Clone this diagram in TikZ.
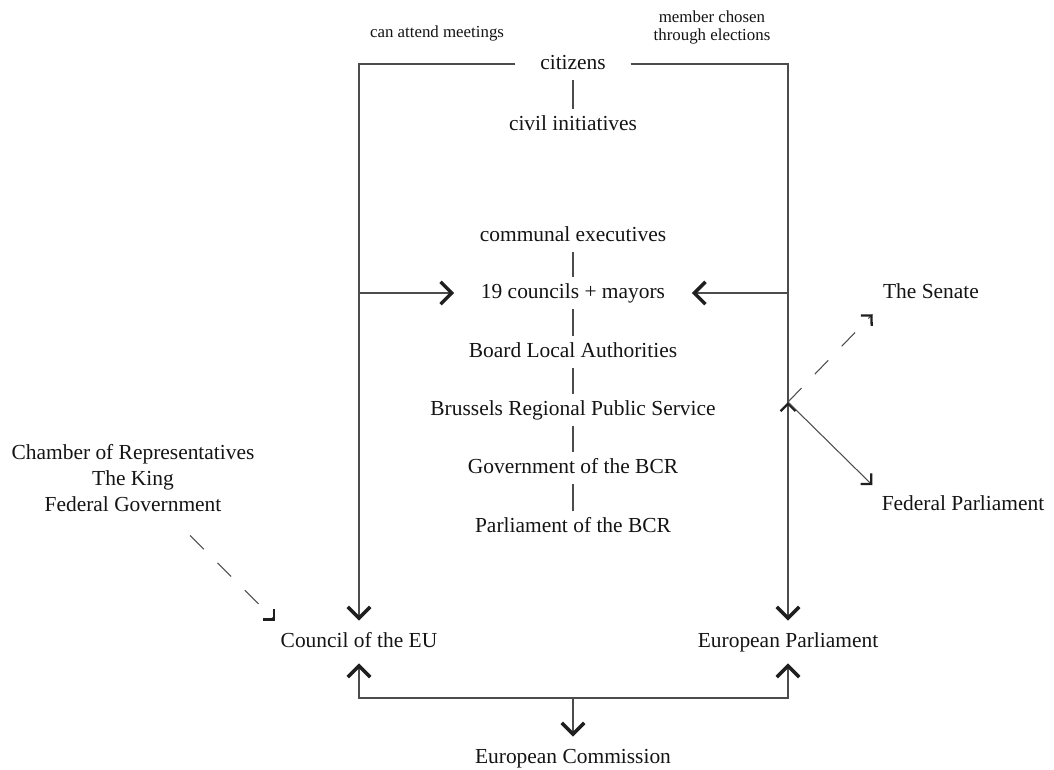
\documentclass[tikz,border=0pt]{standalone}
\usepackage{fontspec}
\setmainfont{Liberation Serif}
\usepackage{tikz}
\usetikzlibrary{arrows.meta,calc}

\begin{document}
\begin{tikzpicture}[
  x=0.02cm, y=-0.02cm,
  lbl/.style ={inner xsep=3pt,inner ysep=3pt,text height=9pt,text depth=3pt,
               font=\fontsize{12.2}{14.8}\selectfont,text=black!92},
  eu/.style  ={lbl,inner ysep=6pt},
  grp/.style ={align=center,font=\fontsize{12.2}{14.8}\selectfont,text=black!92},
  note/.style={align=center,font=\fontsize{9.6}{10.2}\selectfont,text=black!92},
  link/.style={draw=black!70,line width=0.6pt},
  bigarrow/.style  ={link,-{Straight Barb[angle=90:9pt,line width=2pt,color=black!88]}},
  smallarrow/.style={link,-{Straight Barb[angle=90:6pt,line width=1.3pt,color=black!88]}},
  dasharrow/.style ={smallarrow,dash pattern=on 11pt off 11pt},
]
\useasboundingbox (0,0) rectangle (1054,769);

\node[lbl,inner xsep=14pt] (citizens) at (573,64)  {citizens};
\node[lbl]                 (civil)    at (573,125) {civil initiatives};
\node[lbl]                 (communal) at (573,236) {communal executives};
\node[lbl,inner xsep=15pt] (councils) at (573,293) {19 councils + mayors};
\node[lbl]                 (board)    at (573,352) {Board Local Authorities};
\node[lbl]                 (brussels) at (573,410) {Brussels Regional Public Service};
\node[lbl]                 (govt)     at (573,468) {Government of the BCR};
\node[lbl]                 (bcrparl)  at (573,527) {Parliament of the BCR};
\node[eu]  (council)    at (359,642) {Council of the EU};
\node[eu]  (europarl)   at (788,642) {European Parliament};
\node[eu]  (commission) at (573,758) {European Commission};
\node[grp] (chamber) at (133,478) {Chamber of Representatives\\The King\\Federal Government};
\node[lbl] (senate)  at (931,293) {The Senate};
\node[lbl] (fedparl) at (963,505) {Federal Parliament};
\node[note] (attend)  at (437,33) {can attend meetings};
\node[note] (elected) at (712,27) {member chosen\\through elections};

\coordinate (hub)  at (573,698);
\coordinate (fedj) at (788,402);
\coordinate (chamberout) at ($(council.north west)+(-85,-85)$);

\draw[link] (citizens) -- (civil);
\draw[link] (communal) -- (councils);
\draw[link] (councils) -- (board);
\draw[link] (board) -- (brussels);
\draw[link] (brussels) -- (govt);
\draw[link] (govt) -- (bcrparl);

\draw[bigarrow] (citizens.west) -| (council.north);
\draw[bigarrow] (citizens.east) -| (europarl.north);
\draw[bigarrow] (councils.west -| council.north) -- (councils.west);
\draw[bigarrow] (councils.east -| europarl.north) -- (councils.east);

\draw[bigarrow] (hub) -| (council.south);
\draw[bigarrow] (hub) -| (europarl.south);
\draw[bigarrow] (hub) -- (commission.north);

\draw[smallarrow] ([yshift=-8pt]fedj) -- (fedj);
\draw[dasharrow,shorten >=4pt] (fedj) -- (senate.south west);
\draw[smallarrow,shorten >=3pt] (fedj) -- (fedparl.north west);
\draw[dasharrow] (chamberout) -- (council.north west);
\end{tikzpicture}
\end{document}
